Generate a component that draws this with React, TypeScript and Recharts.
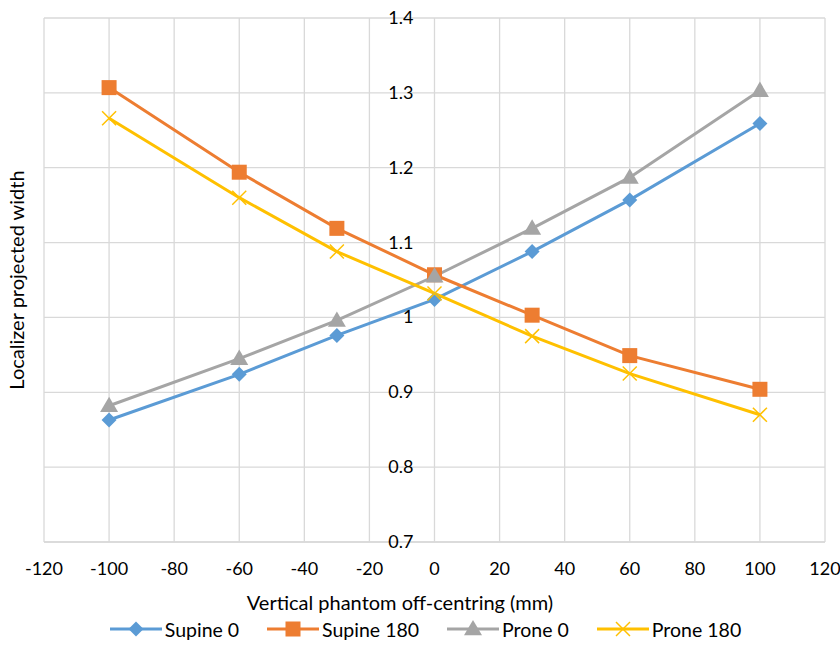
import React from 'react';
import { LineChart, Line, XAxis, YAxis, CartesianGrid, Legend, Label } from 'recharts';

// vertical off-centring in mm
const offsets = [-100, -60, -30, 0, 30, 60, 100];
const supine0 = [0.863, 0.924, 0.976, 1.024, 1.088, 1.157, 1.259];
const supine180 = [1.307, 1.194, 1.119, 1.057, 1.003, 0.949, 0.904];
const prone0 = [0.882, 0.945, 0.996, 1.055, 1.119, 1.187, 1.303];
const prone180 = [1.266, 1.16, 1.088, 1.032, 0.975, 0.925, 0.87];

const xTicks = [-120, -100, -80, -60, -40, -20, 0, 20, 40, 60, 80, 100, 120];
const yTicks = [0.7, 0.8, 0.9, 1, 1.1, 1.2, 1.3, 1.4];

const data = offsets.map((x, i) => ({
  x,
  supine0: supine0[i],
  supine180: supine180[i],
  prone0: prone0[i],
  prone180: prone180[i],
}));

const W = 840;
const H = 656;
const margin = { top: 18, right: 15, left: 24, bottom: 6 };
const yAxisW = 20;
const plotLeft = margin.left + yAxisW;
const plotW = W - plotLeft - margin.right;
const zeroX = plotLeft + plotW / 2;
const FONT = 'Lato, "Liberation Sans", sans-serif';
const TEXT = '#000000';
const GRID = '#d9d9d9';

type Marker = 'diamond' | 'square' | 'triangle' | 'cross';

const series: { key: string; name: string; color: string; marker: Marker }[] = [
  { key: 'supine0', name: 'Supine 0', color: '#5B9BD5', marker: 'diamond' },
  { key: 'supine180', name: 'Supine 180', color: '#ED7D31', marker: 'square' },
  { key: 'prone0', name: 'Prone 0', color: '#A5A5A5', marker: 'triangle' },
  { key: 'prone180', name: 'Prone 180', color: '#FFC000', marker: 'cross' },
];

function markerShape(marker: Marker, cx: number, cy: number, color: string, key?: any) {
  if (marker === 'diamond') {
    const r = 7.5;
    return (
      <polygon key={key} points={`${cx},${cy - r} ${cx + r},${cy} ${cx},${cy + r} ${cx - r},${cy}`} fill={color} />
    );
  }
  if (marker === 'square') {
    const r = 7.5;
    return <rect key={key} x={cx - r} y={cy - r} width={2 * r} height={2 * r} fill={color} />;
  }
  if (marker === 'triangle') {
    const r = 9;
    return (
      <polygon key={key} points={`${cx},${cy - r} ${cx + r},${cy + r * 0.7} ${cx - r},${cy + r * 0.7}`} fill={color} />
    );
  }
  const r = 7;
  return (
    <g key={key}>
      <line x1={cx - r} y1={cy - r} x2={cx + r} y2={cy + r} stroke={color} strokeWidth={1.5} />
      <line x1={cx - r} y1={cy + r} x2={cx + r} y2={cy - r} stroke={color} strokeWidth={1.5} />
    </g>
  );
}

// y labels sit next to the x = 0 gridline, not at the left edge
const renderYTick = (props: any) => {
  const { y, payload } = props;
  return (
    <text x={zeroX - 21} y={y} dy={6} textAnchor="end" fontFamily={FONT} fontSize={18} fill={TEXT}>
      {payload.value}
    </text>
  );
};

const renderLegend = () => (
  <div
    style={{
      display: 'flex',
      justifyContent: 'center',
      alignItems: 'center',
      gap: 28,
      fontFamily: FONT,
      fontSize: 19.5,
      color: TEXT,
      height: 42,
      paddingLeft: 2,
    }}
  >
    {series.map((s) => (
      <div key={s.key} style={{ display: 'flex', alignItems: 'center' }}>
        <svg width={52} height={20} style={{ marginRight: 3 }}>
          <line x1={0} y1={10} x2={52} y2={10} stroke={s.color} strokeWidth={3} />
          {markerShape(s.marker, 26, 10, s.color)}
        </svg>
        <span>{s.name}</span>
      </div>
    ))}
  </div>
);

export default function App() {
  return (
    <div style={{ position: 'absolute', left: 0, top: 0, width: W, height: H, background: '#fff' }}>
      <LineChart width={W} height={H} data={data} margin={margin}>
        <CartesianGrid stroke={GRID} strokeWidth={1.3} />
        <XAxis
          dataKey="x"
          type="number"
          domain={[-120, 120]}
          ticks={xTicks}
          axisLine={{ stroke: GRID, strokeWidth: 1.3 }}
          tickLine={false}
          height={66}
          tickMargin={14}
          tick={{ fontFamily: FONT, fontSize: 18, fill: TEXT }}
        >
          <Label
            content={() => (
              <text x={400} y={610} textAnchor="middle" fontFamily={FONT} fontSize={20} fill={TEXT}>
                Vertical phantom off-centring (mm)
              </text>
            )}
          />
        </XAxis>
        <YAxis
          type="number"
          domain={[0.7, 1.4]}
          ticks={yTicks}
          width={yAxisW}
          axisLine={false}
          tickLine={false}
          tick={renderYTick}
          interval={0}
        >
          <Label
            content={() => (
              <text
                x={24}
                y={280}
                transform="rotate(-90 24 280)"
                textAnchor="middle"
                fontFamily={FONT}
                fontSize={20}
                fill={TEXT}
              >
                Localizer projected width
              </text>
            )}
          />
        </YAxis>
        <Legend verticalAlign="bottom" height={42} content={renderLegend} />
        {series.map((s) => (
          <Line
            key={s.key}
            type="linear"
            dataKey={s.key}
            name={s.name}
            stroke={s.color}
            strokeWidth={3}
            isAnimationActive={false}
            dot={(p: any) => markerShape(s.marker, p.cx, p.cy, s.color, `${s.key}-${p.index}`)}
            activeDot={false}
          />
        ))}
      </LineChart>
    </div>
  );
}
